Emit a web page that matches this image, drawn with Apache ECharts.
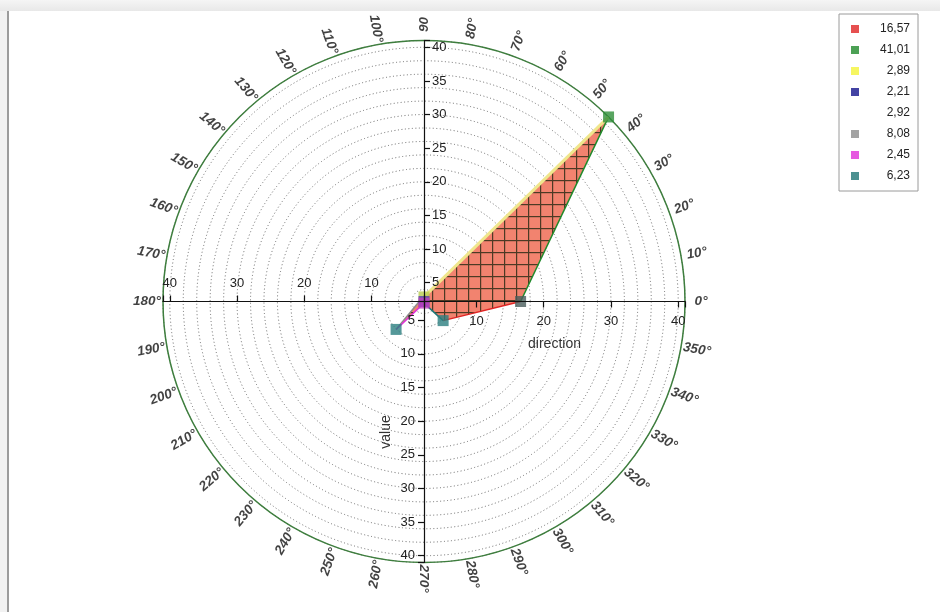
<!DOCTYPE html>
<html>
<head>
<meta charset="utf-8">
<script src="https://cdn.jsdelivr.net/npm/echarts@6/dist/echarts.min.js"></script>
<style>
  html, body { margin: 0; padding: 0; background: #ffffff; }
  #chart { position: absolute; left: 0; top: 0; width: 940px; height: 612px; }
  #strip { position: absolute; left: 0; top: 0; width: 940px; height: 11px; background: linear-gradient(#f5f5f5, #e8e8e8); z-index: 2; }
  #lband { position: absolute; left: 0; top: 11px; width: 7px; height: 601px; background: #f2f2f2; z-index: 2; }
  #vline { position: absolute; left: 7px; top: 11px; width: 2px; height: 601px; background: #9c9c9c; z-index: 2; }
</style>
</head>
<body>
<div id="chart"></div>
<div id="strip"></div>
<div id="lband"></div>
<div id="vline"></div>
<script>
// ---- data ----
const directions = [0, 45, 90, 135, 180, 225, 270, 315];
const values = [16.57, 41.01, 2.89, 2.21, 2.92, 8.08, 2.45, 6.23];
const seriesNames = ['16,57', '41,01', '2,89', '2,21', '2,92', '8,08', '2,45', '6,23'];
const legendColors = ['#e02424', '#1f8a2a', '#f4f43a', '#14148c', '#ffffff', '#8c8c8c', '#e030d8', '#1f7676'];
const markerColors = ['#4a5e5c', '#2f8f3a', '#b8cc50', '#5040b0', 'rgba(255,255,255,0)', '#2a7e80', '#c040c0', '#2a7e80'];
const angleTicks = [0,10,20,30,40,50,60,70,80,90,100,110,120,130,140,150,160,170,180,190,200,210,220,230,240,250,260,270,280,290,300,310,320,330,340,350];
const angleTickLabels = ['0°','10°','20°','30°','40°','50°','60°','70°','80°','90','100°','110°','120°','130°','140°','150°','160°','170°','180°','190°','200°','210°','220°','230°','240°','250°','260°','270°','280°','290°','300°','310°','320°','330°','340°','350°'];
const radiusName = 'value';
const angleName = 'direction';

// ---- layout ----
const rMin = Math.min.apply(null, values);
const rMax = Math.max.apply(null, values);
const CENTER = [424, 301.5];
const RADIUS = 261;
const LABEL_R = 43.4;
const FONT = '"Liberation Sans", Arial, sans-serif';

// hatch pattern
const pat = document.createElement('canvas');
pat.width = 12; pat.height = 12;
const pc = pat.getContext('2d');
pc.fillStyle = '#f2836f';
pc.fillRect(0, 0, 12, 12);
pc.fillStyle = '#4d3a24';
pc.fillRect(0, 0, 12, 1.2);
pc.fillRect(0, 0, 1.2, 12);

const chart = echarts.init(document.getElementById('chart'), null, { renderer: 'canvas' });

const polygonData = directions.map((d, i) => [values[i], d]);
polygonData.push([values[0], 360]);

const polars = [];
const angleAxes = [];
const radiusAxes = [];
// polar 0 : data + grid circles
polars.push({ center: CENTER, radius: RADIUS });
angleAxes.push({
  polarIndex: 0, type: 'value', min: 0, max: 360, startAngle: 0, clockwise: false,
  axisLine: { show: true, lineStyle: { color: '#3e7e3e', width: 1.5 } },
  axisTick: { show: false }, axisLabel: { show: false }, splitLine: { show: false }
});
radiusAxes.push({
  polarIndex: 0, type: 'value', min: rMin, max: rMax, splitNumber: 19,
  axisLine: { show: false }, axisTick: { show: false }, axisLabel: { show: false },
  splitLine: { show: true, lineStyle: { color: '#6a6a6a', type: [1, 2.5], width: 1 } }
});

const axisDefs = [
  { start: 0,   split: 4, margin: -13, align: 'center', vAlign: 'top',    name: angleName, nameGap: 36, nameRotate: 0 },
  { start: 90,  split: 8, margin: -8,  align: 'left',   vAlign: 'middle', name: '', nameGap: 0, nameRotate: 0 },
  { start: 180, split: 4, margin: -12, align: 'center', vAlign: 'bottom', name: '', nameGap: 0, nameRotate: 0 },
  { start: 270, split: 8, margin: -9,  align: 'right',  vAlign: 'middle', name: radiusName, nameGap: 31, nameRotate: 90 }
];
axisDefs.forEach((a, k) => {
  const idx = k + 1;
  polars.push({ center: CENTER, radius: RADIUS });
  angleAxes.push({ polarIndex: idx, type: 'value', min: 0, max: 360, startAngle: a.start, clockwise: false, show: false });
  radiusAxes.push({
    polarIndex: idx, type: 'value', min: rMin, max: rMax, splitNumber: a.split, z: 5,
    name: a.name, nameLocation: 'middle', nameGap: a.nameGap, nameRotate: a.nameRotate,
    nameTextStyle: { color: '#333', fontSize: 14, fontFamily: FONT },
    axisLine: { show: true, lineStyle: { color: '#111', width: 1.2 } },
    axisTick: { show: true, length: -6, lineStyle: { color: '#111', width: 1.2 } },
    axisLabel: {
      show: true, margin: a.margin, align: a.align, verticalAlign: a.vAlign,
      color: '#222', fontSize: 13, fontFamily: FONT,
      formatter: function (v) { return Math.abs(v / 5 - Math.round(v / 5)) < 1e-6 ? String(v) : ''; }
    },
    splitLine: { show: false }
  });
});

const series = [];
series.push({
  type: 'line', coordinateSystem: 'polar', polarIndex: 0, data: polygonData,
  symbol: 'none', silent: true, z: 2, clip: false,
  lineStyle: { width: 0, opacity: 0 },
  areaStyle: { color: { image: pat, repeat: 'repeat' }, opacity: 1 }
});
for (let i = 0; i < directions.length; i++) {
  const j = (i + 1) % directions.length;
  const endAngle = i + 1 < directions.length ? directions[i + 1] : 360;
  const col = j === 2 ? '#f0e68c' : legendColors[j];
  series.push({
    type: 'line', coordinateSystem: 'polar', polarIndex: 0, silent: true, z: 3, clip: false,
    data: [[values[i], directions[i]], [values[j], endAngle]],
    symbol: 'none',
    lineStyle: { color: col, width: j === 2 ? 3 : 1.5 }
  });
}
seriesNames.forEach((n, i) => {
  series.push({
    name: n, type: 'scatter', coordinateSystem: 'polar', polarIndex: 0, z: 4, clip: false,
    data: [[values[i], directions[i]]],
    symbol: 'rect', symbolSize: 11,
    itemStyle: { color: markerColors[i] }
  });
});
function labelRot(a) {
  if (a <= 90) return a;
  if (a < 270) return a - 180;
  return a - 360;
}
series.push({
  type: 'scatter', coordinateSystem: 'polar', polarIndex: 0, silent: true, clip: false, z: 6,
  symbolSize: 0,
  data: angleTicks.map((a) => ({ value: [LABEL_R, a], label: { rotate: labelRot(a) } })),
  label: {
    show: true, position: 'inside',
    formatter: function (p) { return angleTickLabels[p.dataIndex]; },
    color: '#111', fontSize: 13.5, fontWeight: 'bold', fontStyle: 'italic', fontFamily: FONT
  }
});

const option = {
  animation: false,
  backgroundColor: '#ffffff',
  polar: polars,
  angleAxis: angleAxes,
  radiusAxis: radiusAxes,
  legend: {
    orient: 'vertical', left: 839, top: 14,
    padding: [8, 8, 8, 12],
    backgroundColor: '#ffffff', borderColor: '#9a9a9a', borderWidth: 1, borderRadius: 0,
    icon: 'rect', itemWidth: 8, itemHeight: 8, itemGap: 7, itemTextGap: 5,
    selectedMode: false,
    data: seriesNames.map((n, i) => ({ name: n, itemStyle: { color: legendColors[i] } })),
    formatter: '{v|{name}}',
    textStyle: {
      color: '#222', fontSize: 12, fontFamily: FONT, lineHeight: 14,
      rich: { v: { width: 46, align: 'right', fontSize: 12, fontFamily: FONT, color: '#222', lineHeight: 14 } }
    }
  },
  series: series
};
chart.setOption(option);
</script>
</body>
</html>
